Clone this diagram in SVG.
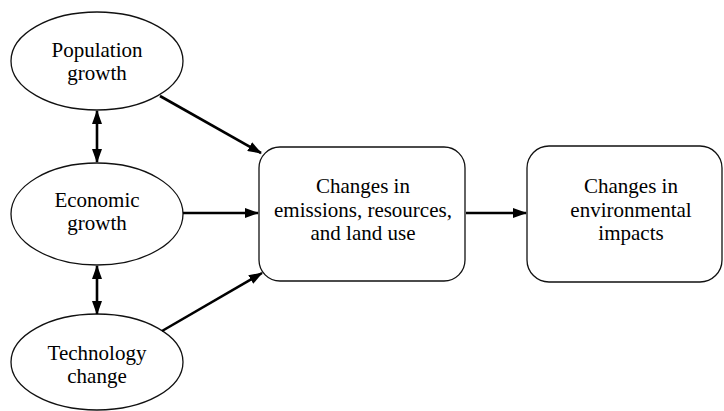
<svg xmlns="http://www.w3.org/2000/svg" width="724" height="411" viewBox="0 0 724 411">
<style>
.node{fill:#fff;stroke:#111;stroke-width:1.3}
.c{stroke:#000;stroke-width:2.6;fill:none}
</style>
<defs>
<marker id="ah" markerWidth="14" markerHeight="10" refX="13" refY="5" orient="auto-start-reverse" markerUnits="userSpaceOnUse">
<path d="M0,0 L14,5 L0,10 Z" fill="#000"/>
</marker>
</defs>
<rect width="724" height="411" fill="#fff"/>
<g id="population">
<ellipse class="node" cx="97" cy="61" rx="86" ry="49"/>
<text x="97" y="57" font-size="21" font-family="Liberation Serif" text-anchor="middle"><tspan font-family="Times New Roman, serif">Population</tspan></text>
<text x="97" y="80" font-size="21" font-family="Liberation Serif" text-anchor="middle"><tspan font-family="Times New Roman, serif">growth</tspan></text>
</g>
<g id="economic">
<ellipse class="node" cx="97" cy="214" rx="86" ry="51"/>
<text x="97" y="207" font-size="21" font-family="Liberation Serif" text-anchor="middle"><tspan font-family="Times New Roman, serif">Economic</tspan></text>
<text x="97" y="230" font-size="21" font-family="Liberation Serif" text-anchor="middle"><tspan font-family="Times New Roman, serif">growth</tspan></text>
</g>
<g id="technology">
<ellipse class="node" cx="97" cy="362" rx="86" ry="48"/>
<text x="97" y="360" font-size="21" font-family="Liberation Serif" text-anchor="middle"><tspan font-family="Times New Roman, serif">Technology</tspan></text>
<text x="97" y="383" font-size="21" font-family="Liberation Serif" text-anchor="middle"><tspan font-family="Times New Roman, serif">change</tspan></text>
</g>
<g id="changes-emissions">
<rect class="node" x="259" y="147" width="206" height="134" rx="21"/>
<text x="363" y="193" font-size="21" font-family="Liberation Serif" text-anchor="middle"><tspan font-family="Times New Roman, serif">Changes in</tspan></text>
<text x="363" y="217" font-size="21" font-family="Liberation Serif" text-anchor="middle"><tspan font-family="Times New Roman, serif">emissions, resources,</tspan></text>
<text x="363" y="240" font-size="21" font-family="Liberation Serif" text-anchor="middle"><tspan font-family="Times New Roman, serif">and land use</tspan></text>
</g>
<g id="changes-impacts">
<rect class="node" x="527" y="146" width="195" height="136" rx="22"/>
<text x="631" y="193" font-size="21" font-family="Liberation Serif" text-anchor="middle"><tspan font-family="Times New Roman, serif">Changes in</tspan></text>
<text x="631" y="217" font-size="21" font-family="Liberation Serif" text-anchor="middle"><tspan font-family="Times New Roman, serif">environmental</tspan></text>
<text x="631" y="240" font-size="21" font-family="Liberation Serif" text-anchor="middle"><tspan font-family="Times New Roman, serif">impacts</tspan></text>
</g>
<g id="connectors">
<line class="c" x1="160" y1="96" x2="261" y2="153" marker-end="url(#ah)"/>
<line class="c" x1="183" y1="213" x2="258" y2="213" marker-end="url(#ah)"/>
<line class="c" x1="162" y1="331" x2="262" y2="273" marker-end="url(#ah)"/>
<line class="c" x1="466" y1="213" x2="526" y2="213" marker-end="url(#ah)"/>
<line class="c" x1="97" y1="111" x2="97" y2="162" marker-start="url(#ah)" marker-end="url(#ah)"/>
<line class="c" x1="97" y1="266" x2="97" y2="314" marker-start="url(#ah)" marker-end="url(#ah)"/>
</g>
</svg>
